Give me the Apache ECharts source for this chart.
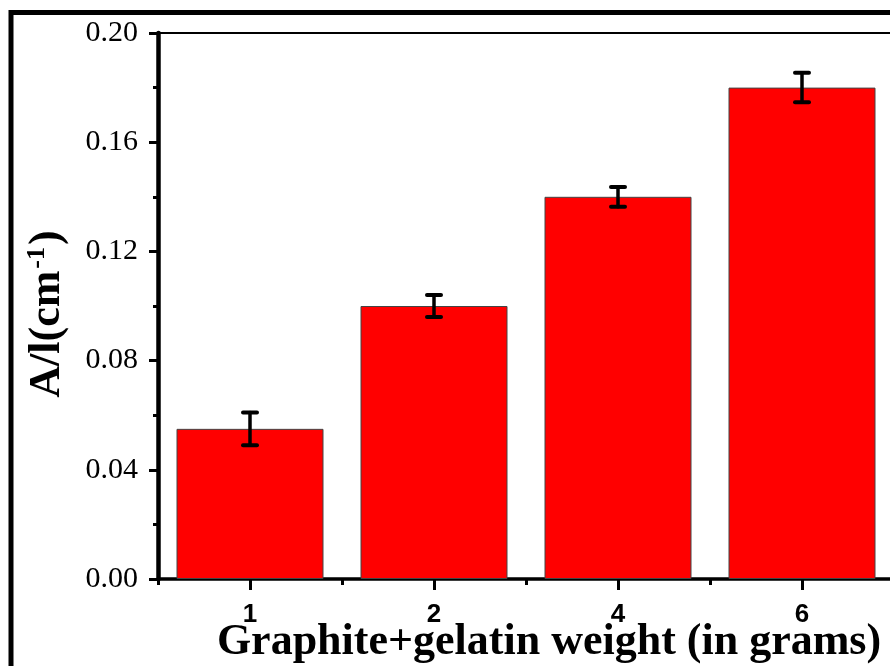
<!DOCTYPE html>
<html>
<head>
<meta charset="utf-8">
<script src="https://cdn.jsdelivr.net/npm/echarts@6/dist/echarts.min.js"></script>
<style>html,body{margin:0;padding:0;background:#fff}#c{width:890px;height:666px}</style>
</head>
<body>
<div id="c"></div>
<script>
const categories = ['1', '2', '4', '6'];
const values = [0.055, 0.100, 0.140, 0.180];
const errors = [0.006, 0.004, 0.0036, 0.0054];
const yTicks = { min: 0, max: 0.20, interval: 0.04 };

const chart = echarts.init(document.getElementById('c'), null, { renderer: 'canvas' });
const serif = 'Liberation Serif';
const errData = values.map((v, i) => [i, v, errors[i]]);

chart.setOption({
  animation: false,
  backgroundColor: '#fff',
  graphic: [{
    type: 'rect', shape: { x: 11, y: 12.5, width: 1200, height: 1200 },
    style: { fill: 'none', stroke: '#000', lineWidth: 5 }, z: 100
  }],
  grid: { left: 158, top: 33, width: 736, height: 546, show: true, borderColor: '#000', borderWidth: 2, backgroundColor: 'transparent', outerBoundsMode: 'none', containLabel: false },
  xAxis: [{
    type: 'category', data: categories, position: 'bottom',
    name: 'Graphite+gelatin weight (in grams)', nameLocation: 'middle', nameGap: 42, nameMoveOverlap: false,
    nameTextStyle: { fontFamily: serif, fontWeight: 'bold', fontSize: 44, color: '#000', padding: [0, 0, 0, 46] },
    axisLine: { show: true, lineStyle: { color: '#000', width: 3.5 } },
    axisTick: { show: true, inside: false, alignWithLabel: true, length: 11, lineStyle: { color: '#000', width: 3 } },
    axisLabel: { show: true, margin: 23, fontFamily: 'Liberation Sans', fontWeight: 'bold', fontSize: 26, color: '#000' },
    splitLine: { show: false }
  }, {
    type: 'category', data: categories, position: 'bottom',
    axisLine: { show: false },
    axisTick: { show: true, inside: false, length: 6, lineStyle: { color: '#000', width: 3 } },
    axisLabel: { show: false }, splitLine: { show: false }
  }],
  yAxis: {
    type: 'value', min: yTicks.min, max: yTicks.max, interval: yTicks.interval,
    name: '{a|A/l(cm}{s|-1}{a|)}', nameLocation: 'middle', nameGap: 86, nameRotate: 90, nameMoveOverlap: false,
    nameTextStyle: {
      padding: [0, 16, 0, 0],
      rich: {
        a: { fontFamily: serif, fontWeight: 'bold', fontSize: 44, color: '#000' },
        s: { fontFamily: serif, fontWeight: 'bold', fontSize: 26, color: '#000', padding: [0, 2, 22, 2] }
      }
    },
    axisLine: { show: true, lineStyle: { color: '#000', width: 4.5 } },
    axisTick: { show: true, inside: false, length: 9, lineStyle: { color: '#000', width: 3 } },
    minorTick: { show: true, splitNumber: 2, length: 5, lineStyle: { color: '#000', width: 3 } },
    axisLabel: { show: true, margin: 20, fontFamily: serif, fontSize: 30, color: '#000', formatter: v => v.toFixed(2) },
    splitLine: { show: false }
  },
  series: [{
    type: 'bar', data: values, barWidth: 147,
    itemStyle: { color: '#ff0000', borderColor: '#444', borderWidth: 1 }
  }, {
    type: 'custom', data: errData, z: 10,
    renderItem: (params, api) => {
      const x = api.value(0), v = api.value(1), e = api.value(2);
      const top = api.coord([x, v + e]);
      const bot = api.coord([x, v - e]);
      const hw = 7;
      const st = { stroke: '#000', lineWidth: 3.5, lineCap: 'round' };
      return {
        type: 'group', children: [
          { type: 'line', shape: { x1: top[0], y1: top[1], x2: bot[0], y2: bot[1] }, style: st },
          { type: 'line', shape: { x1: top[0] - hw, y1: top[1], x2: top[0] + hw, y2: top[1] }, style: { stroke: '#000', lineWidth: 4, lineCap: 'round' } },
          { type: 'line', shape: { x1: bot[0] - hw, y1: bot[1], x2: bot[0] + hw, y2: bot[1] }, style: { stroke: '#000', lineWidth: 4, lineCap: 'round' } }
        ]
      };
    }
  }]
});
</script>
</body>
</html>
